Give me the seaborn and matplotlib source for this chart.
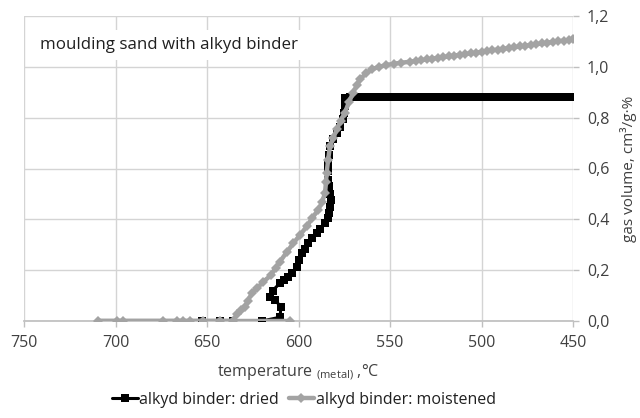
import numpy as np
import pandas as pd
import matplotlib
matplotlib.use("Agg")
import matplotlib.pyplot as plt
import seaborn as sns

# ---- data ----
dried_temp = [652.7, 642.9, 635.8, 620.0, 610.0, 609.7, 612.8, 615.6, 614.1, 610.1,
              608.0, 605.6, 603.5, 601.0, 599.5, 598.3, 596.5, 594.6, 592.5, 590.0,
              588.0, 585.5, 584.0, 583.2, 582.6, 582.4, 582.8, 583.5, 583.7, 584.0,
              584.0, 583.5, 582.8, 581.0, 579.1, 577.5, 575.5, 575.0, 574.6, 574.6,
              574.6, 572, 569, 566, 563, 560, 557, 554, 551, 548, 545, 542, 539, 536,
              533, 530, 527, 524, 521, 518, 515, 512, 509, 506, 503, 500, 497, 494,
              491, 488, 485, 482, 479, 476, 473, 470, 467, 464, 461, 458, 455, 452, 450]
dried_vol = [0.0, 0.0, 0.0, 0.0, 0.015, 0.056, 0.083, 0.096, 0.12, 0.149,
             0.16, 0.175, 0.19, 0.214, 0.24, 0.267, 0.285, 0.306, 0.325, 0.346,
             0.362, 0.385, 0.405, 0.425, 0.45, 0.477, 0.5, 0.53, 0.556, 0.59,
             0.622, 0.655, 0.688, 0.715, 0.74, 0.765, 0.793, 0.82, 0.846, 0.865,
             0.879, 0.88, 0.88, 0.88, 0.88, 0.88, 0.88, 0.88, 0.88, 0.88, 0.881, 0.881, 0.88, 0.88,
             0.88, 0.88, 0.88, 0.88, 0.88, 0.88, 0.88, 0.88, 0.88, 0.882, 0.883, 0.883, 0.883, 0.882,
             0.881, 0.88, 0.88, 0.88, 0.88, 0.88, 0.88, 0.88, 0.88, 0.88, 0.88, 0.88, 0.88, 0.88, 0.88]

moist_temp = [604.6, 709.4, 699.3, 695.7, 673.9, 666.6, 662.9, 659.3, 652.0, 642.9,
              635.6, 633.8, 631.5, 629.2, 627.5, 625.6, 622.5, 619.2, 615.0, 612.5,
              610.1, 606.5, 602.8, 599.0, 595.5, 592.5, 589.2, 587.0, 585.5, 585.0,
              584.6, 583.8, 582.8, 581.0, 579.1, 577.0, 574.6, 572.5, 570.1, 568.0,
              566.4, 563, 560, 556, 552, 548, 544, 539, 536, 533, 530, 527, 524, 521,
              518, 515, 512, 509, 506, 503, 500, 497, 494, 491, 488, 485, 482, 479,
              476, 473, 470, 467, 464, 461, 458, 455, 452, 450]
moist_vol = [0.0, 0.0, 0.0, 0.0, 0.0, 0.0, 0.0, 0.0, 0.0, 0.0,
             0.0, 0.028, 0.042, 0.056, 0.08, 0.109, 0.13, 0.155, 0.18, 0.21,
             0.234, 0.27, 0.306, 0.34, 0.372, 0.405, 0.438, 0.47, 0.504, 0.545,
             0.583, 0.635, 0.688, 0.72, 0.754, 0.787, 0.82, 0.86, 0.899, 0.93,
             0.951, 0.975, 0.99, 1.0, 1.007, 1.012, 1.016, 1.02, 1.023, 1.026, 1.029, 1.032, 1.035, 1.038,
             1.041, 1.044, 1.047, 1.05, 1.053, 1.056, 1.059, 1.062, 1.065, 1.068, 1.071, 1.074, 1.077, 1.08,
             1.083, 1.086, 1.089, 1.092, 1.095, 1.098, 1.101, 1.103, 1.106, 1.108]

x_ticks = [750, 700, 650, 600, 550, 500, 450]
y_ticks = [0.0, 0.2, 0.4, 0.6, 0.8, 1.0, 1.2]
y_tick_labels = ["0,0", "0,2", "0,4", "0,6", "0,8", "1,0", "1,2"]

sns.set_theme(style="white")
plt.rcParams['font.family'] = ['Open Sans', 'DejaVu Sans']

fig = plt.figure(figsize=(6.4, 4.18), dpi=100)
ax = fig.add_axes([24/640, 1-321/418, (573-24)/640, (321-16)/418])

grid_c = "#d4d4d4"
black = "#000000"
grey = "#a3a3a3"

df_d = pd.DataFrame({"t": dried_temp, "v": dried_vol})
df_m = pd.DataFrame({"t": moist_temp, "v": moist_vol})

sns.lineplot(data=df_d, x="t", y="v", sort=False, estimator=None, ax=ax,
             color=black, lw=2.2, marker="s", markersize=6, markeredgewidth=0,
             label="alkyd binder: dried", zorder=3)
sns.lineplot(data=df_m, x="t", y="v", sort=False, estimator=None, ax=ax,
             color=grey, lw=3.2, marker="D", markersize=5, markeredgewidth=0,
             label="alkyd binder: moistened", zorder=4)

ax.set_xlim(750, 450)
ax.set_ylim(0, 1.2)
ax.set_xticks(x_ticks)
ax.set_xticklabels([str(t) for t in x_ticks])
ax.set_yticks(y_ticks)
ax.set_yticklabels(y_tick_labels)
ax.yaxis.tick_right()
ax.yaxis.set_label_position("right")
ax.grid(True, color=grid_c, lw=1.0)
for s in ax.spines.values():
    s.set_visible(False)
ax.spines['bottom'].set_visible(True)
ax.spines['bottom'].set_color("#bfbfbf")
ax.tick_params(axis='both', colors="#bfbfbf", labelcolor="#404040", labelsize=11.5,
               length=4, width=1, direction='out', bottom=True, right=True, left=False)
ax.tick_params(axis='x', pad=6)
ax.tick_params(axis='y', pad=6)

ax.set_xlabel(r"temperature $_{\mathregular{(metal)}}$ ,°C", fontsize=11.5, color="#404040", labelpad=8)
ax.set_ylabel("gas volume, cm³/g·%", fontsize=11, color="#404040", labelpad=8)

ax.text(0.03, 0.905, "moulding sand with alkyd binder", transform=ax.transAxes,
        fontsize=12.2, color="#202020", va="center", ha="left", zorder=6,
        bbox=dict(facecolor="white", edgecolor="none", pad=5))

ax.legend_.remove()
h, l = ax.get_legend_handles_labels()
fig.legend(h, l, loc="lower center", bbox_to_anchor=(0.475, -0.01), ncol=2, frameon=False,
           fontsize=11.5, handlelength=1.6, handletextpad=0.1, columnspacing=0.6,
           labelcolor="#202020")

fig.savefig("out.png", dpi=100)
